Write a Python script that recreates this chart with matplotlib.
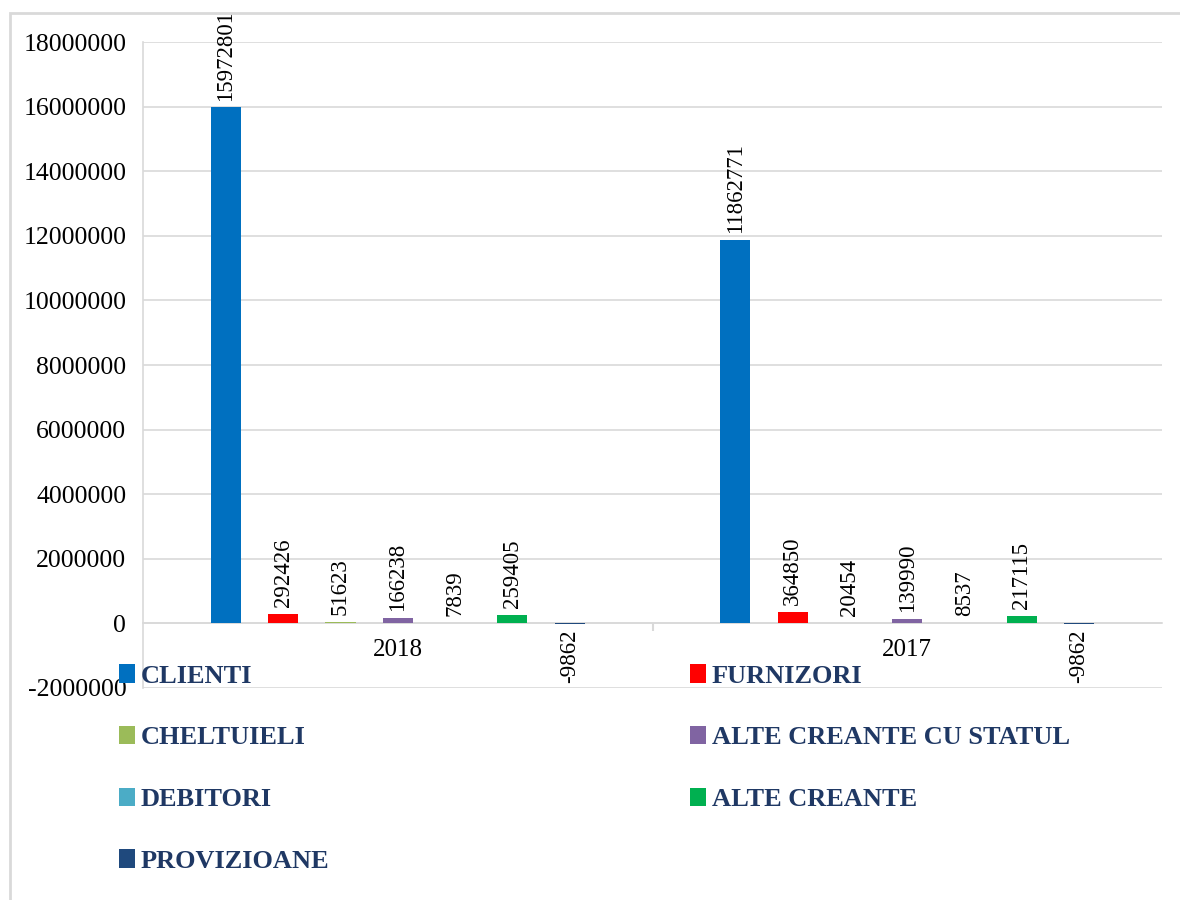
import matplotlib
matplotlib.use("Agg")
import matplotlib.pyplot as plt
from matplotlib.patches import Rectangle
from matplotlib.ticker import FuncFormatter
import numpy as np

years = ["2018", "2017"]
series = ["CLIENTI", "FURNIZORI", "CHELTUIELI", "ALTE CREANTE CU STATUL",
          "DEBITORI", "ALTE CREANTE", "PROVIZIOANE"]
vals_2018 = [15972801, 292426, 51623, 166238, 7839, 259405, -9862]
vals_2017 = [11862771, 364850, 20454, 139990, 8537, 217115, -9862]
colors = ["#0070C0", "#FF0000", "#9BBB59", "#8064A2", "#4BACC6", "#00B050", "#1F497D"]

plt.rcParams['font.family'] = ['Liberation Serif', 'DejaVu Serif']

fig = plt.figure(figsize=(11.8, 9), dpi=100)
ax = fig.add_axes([143/1180, 1-688/900, (1162-143)/1180, (688-42)/900])

# light frame of the chart area (only left/top visible)
fig.patches.append(Rectangle((10/1180, -0.05), 1.1, 1-13/900+0.05, transform=fig.transFigure,
                             fill=False, edgecolor="#D9D9D9", linewidth=2))

data = np.array([vals_2018, vals_2017])
x = np.arange(len(years))
slot = 0.1124
width = 0.059
handles = []
for i, name in enumerate(series):
    pos = x + (i - 3) * slot
    bars = ax.bar(pos, data[:, i], width, color=colors[i], label=name, zorder=3)
    handles.append(bars)
    for xp, v in zip(pos, data[:, i]):
        if v >= 0:
            ax.annotate(str(v), (xp, v), xytext=(0, 5), textcoords="offset points",
                        rotation=90, ha="center", va="bottom", fontsize=16.5,
                        annotation_clip=False)
        else:
            ax.annotate(str(v), (xp, v), xytext=(0, -4), textcoords="offset points",
                        rotation=90, ha="center", va="top", fontsize=16.5,
                        annotation_clip=False)

ax.set_xlim(-0.5, 1.5)
ax.set_ylim(-2000000, 18000000)
ax.set_yticks(np.arange(-2000000, 18000001, 2000000))
ax.yaxis.set_major_formatter(FuncFormatter(lambda v, p: "%d" % v))
ax.grid(axis="y", color="#D9D9D9", linewidth=1.2, zorder=0)
ax.set_axisbelow(True)

for s in ["top", "right"]:
    ax.spines[s].set_visible(False)
ax.spines["left"].set_color("#D9D9D9")
ax.spines["left"].set_linewidth(1.2)
ax.spines["bottom"].set_position(("data", 0))
ax.spines["bottom"].set_color("#D9D9D9")
ax.spines["bottom"].set_linewidth(1.2)

ax.set_xticks(x)
ax.set_xticklabels(years, fontsize=18)
ax.tick_params(axis="x", length=0, pad=11)
ax.set_xticks([0.5], minor=True)
ax.tick_params(axis="x", which="minor", length=6, width=1.5, color="#D9D9D9")
ax.tick_params(axis="y", length=0, pad=12, labelsize=18.5)

order = [0, 2, 4, 6, 1, 3, 5]
leg = fig.legend([handles[k] for k in order], [series[k] for k in order],
                 loc="upper left", bbox_to_anchor=(106/1180, 1-651/900), ncol=2,
                 frameon=False, borderpad=0, handlelength=0.6, handleheight=0.7,
                 handletextpad=0.2, labelspacing=1.45, columnspacing=13.7,
                 prop={"family": "Liberation Serif", "weight": "bold", "size": 19})
for t in leg.get_texts():
    t.set_color("#1F3864")

fig.savefig("out.png", dpi=100)
